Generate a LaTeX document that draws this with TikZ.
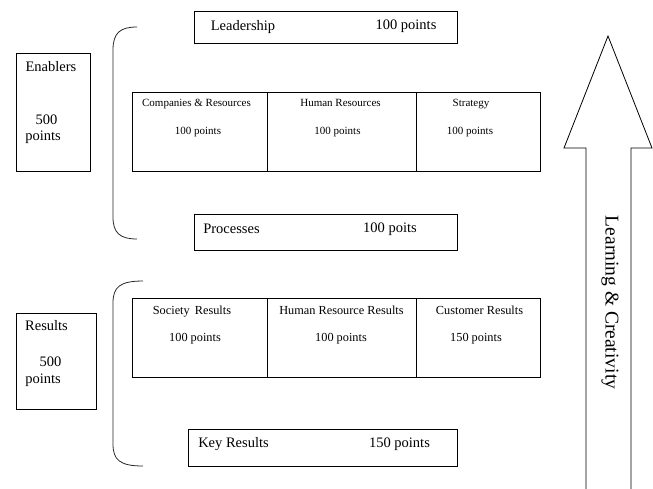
\documentclass[tikz,border=0pt]{standalone}
\usepackage{fontspec}
\setmainfont{Liberation Serif}
\begin{document}
\begin{tikzpicture}[x=1pt,y=-1pt,
  box/.style={draw=black,line width=0.8pt,inner sep=0pt,fill=white},
  bigt/.style={font=\fontsize{14.5}{16}\selectfont,inner sep=0pt,anchor=base},
  smallt/.style={font=\fontsize{11}{13}\selectfont,inner sep=0pt,anchor=base},
  midt/.style={font=\fontsize{12.3}{14}\selectfont,inner sep=0pt,anchor=base},
  brace/.style={draw=black!85,line width=0.8pt}]
\useasboundingbox (0,0) rectangle (653,488);

% ---------- Enablers ----------
\node[box,minimum width=74pt,minimum height=118pt] (enab) at (53,112) {};
\node[bigt] (enabt) at (51,71.7) {Enablers};
\node[bigt] (enabn) at (46.5,124) {500};
\node[bigt] (enabp) at (43,140.7) {points};

\draw[brace] (137,27) .. controls (120,27) and (113,33) .. (113,50) -- (113,217) .. controls (113,233) and (120,239) .. (137,239);

\node[box,minimum width=263pt,minimum height=32pt] (lead) at (325.5,27) {};
\node[bigt] (leadt) at (243,30) {Leadership};
\node[bigt] (leadp) at (406,29.5) {100 points};

\node[box,minimum width=135pt,minimum height=79pt] (comp) at (199.5,131.5) {};
\node[box,minimum width=149pt,minimum height=79pt] (hr) at (341.5,131.5) {};
\node[box,minimum width=124pt,minimum height=79pt] (strat) at (478,131.5) {};
\node[smallt] (compt) at (196.5,106.7) {Companies \& Resources};
\node[smallt] (compp) at (198,134) {100 points};
\node[smallt] (hrt) at (340.5,106.7) {Human Resources};
\node[smallt] (hrp) at (337.5,134) {100 points};
\node[smallt] (stratt) at (471,106.7) {Strategy};
\node[smallt] (stratp) at (470,134) {100 points};

\node[box,minimum width=263pt,minimum height=36pt] (proc) at (325.5,232) {};
\node[bigt] (proct) at (231.5,233) {Processes};
\node[bigt] (procp) at (390,232.7) {100 poits};

% ---------- Results ----------
\node[box,minimum width=80pt,minimum height=96pt] (res) at (56,361) {};
\node[bigt] (rest) at (46.5,330.7) {Results};
\node[bigt] (resn) at (50.5,366.7) {500};
\node[bigt] (resp) at (43,383.3) {points};

\draw[brace] (143,281) .. controls (120,281) and (113,287) .. (113,303) -- (113,444) .. controls (113,460) and (120,466) .. (143,466);

\node[box,minimum width=135pt,minimum height=79pt] (soc) at (199.5,337.5) {};
\node[box,minimum width=149pt,minimum height=79pt] (hrr) at (341.5,337.5) {};
\node[box,minimum width=124pt,minimum height=79pt] (cust) at (478,337.5) {};
\node[midt] (soct) at (192,314) {Society\, Results};
\node[midt] (socp) at (195,341.7) {100 points};
\node[midt] (hrrt) at (341.5,314) {Human Resource Results};
\node[midt] (hrrp) at (341,341.7) {100 points};
\node[midt] (custt) at (479.5,314) {Customer Results};
\node[midt] (custp) at (476,341.7) {150 points};

\node[box,minimum width=269pt,minimum height=37pt] (key) at (322.5,447.5) {};
\node[bigt] (keyt) at (233.5,447.3) {Key Results};
\node[bigt] (keyp) at (399.5,447.3) {150 points};

% ---------- Arrow ----------
\coordinate (tip) at (608,36);
\draw[line width=0.8pt,line join=miter] (586,495) -- (586,148) -- (564,148) -- (tip) -- (652,148) -- (631,148) -- (631,495);
\node[font=\fontsize{19.5}{22}\selectfont,inner sep=0pt,rotate=-90,anchor=center] (learn) at (610,302.5) {Learning \& Creativity};
\end{tikzpicture}
\end{document}
